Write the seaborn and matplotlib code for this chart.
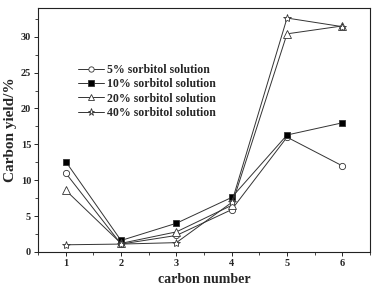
import numpy as np
import pandas as pd
import matplotlib
matplotlib.use("Agg")
import matplotlib.pyplot as plt
import seaborn as sns
from matplotlib.ticker import MultipleLocator

carbon_number = [1, 2, 3, 4, 5, 6]
yield_5 = [11.0, 1.1, 2.3, 5.9, 16.0, 12.0]
yield_10 = [12.6, 1.6, 4.0, 7.6, 16.3, 18.0]
yield_20 = [8.6, 1.2, 2.8, 6.5, 30.4, 31.5]
yield_40 = [1.0, 1.1, 1.3, 6.9, 32.6, 31.4]
series_names = ["5% sorbitol solution", "10% sorbitol solution",
                "20% sorbitol solution", "40% sorbitol solution"]

rows = []
for name, vals in zip(series_names, [yield_5, yield_10, yield_20, yield_40]):
    for c, v in zip(carbon_number, vals):
        rows.append({"carbon": c, "yield": v, "series": name})
df = pd.DataFrame(rows)

sns.set_theme(style="ticks")
plt.rcParams["font.family"] = ["Liberation Serif", "DejaVu Serif"]
plt.rcParams["font.weight"] = "bold"

fig = plt.figure(figsize=(3.73, 2.86), dpi=100)
ax = fig.add_axes([0.102, 0.119, 0.89, 0.853])

markers = {series_names[0]: "o", series_names[1]: "s",
           series_names[2]: "^", series_names[3]: "*"}
faces = {series_names[0]: "white", series_names[1]: "black",
         series_names[2]: "white", series_names[3]: "white"}
sizes = {series_names[0]: 4.5, series_names[1]: 4.5, series_names[2]: 5.5, series_names[3]: 6}

for name in series_names:
    sub = df[df["series"] == name]
    sns.lineplot(data=sub, x="carbon", y="yield", ax=ax, color="#333333",
                 linewidth=0.7, marker=markers[name], markersize=sizes[name],
                 markerfacecolor=faces[name], markeredgecolor="#333333",
                 markeredgewidth=0.6, label=name)

ax.set_xlim(0.5, 6.5)
ax.set_ylim(0, 34)
ax.xaxis.set_major_locator(MultipleLocator(1))
ax.xaxis.set_minor_locator(MultipleLocator(0.5))
ax.yaxis.set_major_locator(MultipleLocator(5))
ax.yaxis.set_minor_locator(MultipleLocator(2.5))
ax.tick_params(which="major", direction="out", length=3, width=0.7, labelsize=7.5, pad=2)
ax.tick_params(which="minor", direction="out", length=2, width=0.6)
for lab in ax.get_xticklabels() + ax.get_yticklabels():
    lab.set_fontweight("bold")
for s in ax.spines.values():
    s.set_linewidth(0.8)
    s.set_color("#222222")

ax.set_xlabel("carbon number", fontsize=10, fontweight="bold", labelpad=4)
ax.set_ylabel("Carbon yield/%", fontsize=11, fontweight="bold", labelpad=3)

ax.legend(loc="upper left", bbox_to_anchor=(0.095, 0.805), frameon=False,
          prop={"weight": "bold", "size": 8.5}, handlelength=2.2,
          handletextpad=0.3, labelspacing=0.2, borderpad=0.2, markerscale=0.85)

fig.savefig("out.png", dpi=100)
